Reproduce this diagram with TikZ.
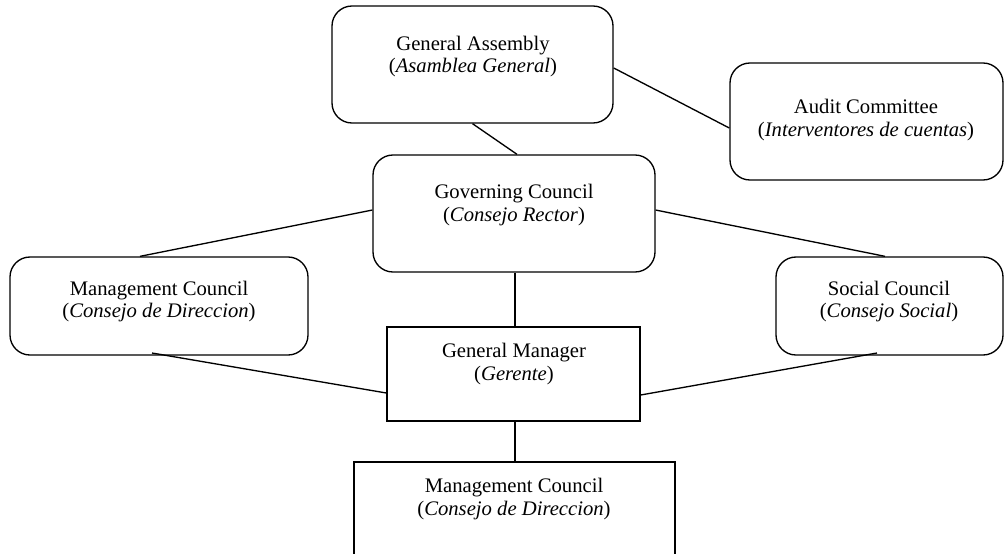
\documentclass[tikz,border=0pt]{standalone}
\usepackage{fontspec}
\setmainfont{Liberation Serif}
\begin{document}
\begin{tikzpicture}[x=0.75pt,y=-0.75pt,
  box/.style={draw,line width=1pt,inner sep=0pt},
  rbox/.style={box,rounded corners=15pt},
  label/.style={align=center,inner sep=0pt,font=\fontsize{15.5}{17}\selectfont},
  link/.style={line width=1pt}]
\useasboundingbox (0,0) rectangle (1005,553);
% boxes
\node[rbox,minimum width=210.75pt,minimum height=87.75pt] (ga) at (472.5,64.5) {};
\node[rbox,minimum width=204.75pt,minimum height=87.75pt] (ac) at (866.5,121.5) {};
\node[rbox,minimum width=211.5pt,minimum height=87.75pt] (gc) at (514,213.5) {};
\node[rbox,minimum width=223.5pt,minimum height=73.5pt] (mc) at (159,306) {};
\node[rbox,minimum width=170.25pt,minimum height=73.5pt] (sc) at (889.5,306) {};
\node[box,minimum width=189.75pt,minimum height=70.5pt] (gm) at (513.5,374) {};
\node[box,minimum width=240.75pt,minimum height=103.5pt] (md) at (514.5,531) {};
% captions
\node[label] (ga-t) at (473,56.5) {General Assembly\\(\textit{Asamblea General})};
\node[label] (ac-t) at (866,120) {Audit Committee\\(\textit{Interventores de cuentas})};
\node[label] (gc-t) at (514,205) {Governing Council\\(\textit{Consejo Rector})};
\node[label] (mc-t) at (159,301.5) {Management Council\\(\textit{Consejo de Direccion})};
\node[label] (sc-t) at (889,301.5) {Social Council\\(\textit{Consejo Social})};
\node[label] (gm-t) at (514,364) {General Manager\\(\textit{Gerente})};
\node[label] (md-t) at (514,499) {Management Council\\(\textit{Consejo de Direccion})};
% connectors
\draw[link] (ga.south) -- ([xshift=2.25pt]gc.north);
\draw[link] ([yshift=-2.6pt]ga.east) -- ([yshift=-4.9pt]ac.west);
\draw[link] ([yshift=2.6pt]gc.west) -- ([xshift=-14.25pt]mc.north);
\draw[link] ([yshift=2.6pt]gc.east) -- ([xshift=-3.4pt]sc.north);
\draw[link] ([xshift=0.75pt]gc.south) -- ([xshift=0.75pt]gc.south |- gm.north);
\draw[link] ([xshift=-5.25pt,yshift=2pt]mc.south) -- ([yshift=-14.25pt]gm.west);
\draw[link] ([xshift=-9.4pt,yshift=2pt]sc.south) -- ([yshift=-15.75pt]gm.east);
\draw[link] ([xshift=1pt]gm.south) -- ([xshift=1pt]gm.south |- md.north);
\end{tikzpicture}
\end{document}
